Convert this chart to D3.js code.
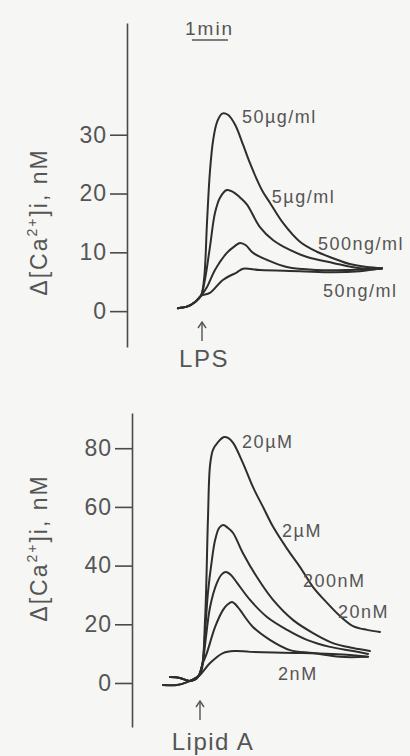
<!DOCTYPE html>
<html>
<head>
<meta charset="utf-8">
<script src="https://cdn.jsdelivr.net/npm/d3@7/dist/d3.min.js"></script>
<style>
    body { margin: 0; background: #f6f6f4; }
    svg text { font-family: "Liberation Sans", Arial, sans-serif; fill: #555; }
    .trace { fill: none; stroke: #2e2e2e; stroke-width: 2; stroke-linejoin: round; stroke-linecap: round; }
    .axis path, .axis line { stroke: #4a4a4a; stroke-width: 1.6; }
</style>
</head>
<body>
<svg id="canvas" width="410" height="756"></svg>
<script>
'use strict';

// time in minutes after the stimulus, value = delta [Ca2+]i in nM

// ---- LPS panel ----
const lpsBaseline = [[-0.67, 0.5], [-0.4, 0.8], [-0.2, 1.5], [-0.03, 2.6]];
const lps50ug = [[0.06, 5.6], [0.14, 15.2], [0.22, 23.7], [0.31, 29.1], [0.42, 32.2], [0.56, 33.6], [0.72, 33.4],
    [0.92, 31.7], [1.14, 28.3], [1.33, 25.2], [1.53, 22.3], [1.69, 20.3], [1.89, 18.4], [2.25, 15.0], [2.72, 11.8],
    [3.19, 10.1], [3.64, 9.0], [4.11, 8.0], [4.58, 7.5], [5.0, 7.3]];
const lps5ug = [[0.08, 5.3], [0.22, 10.9], [0.36, 16.7], [0.5, 19.3], [0.69, 20.6], [0.86, 20.3], [1.06, 19.3],
    [1.25, 18.1], [1.61, 14.3], [1.97, 12.1], [2.44, 10.4], [2.92, 9.2], [3.64, 8.2], [4.39, 7.3], [5.0, 7.3]];
const lps500ng = [[0.14, 4.1], [0.36, 7.0], [0.69, 9.9], [0.92, 11.1], [1.06, 11.6], [1.22, 11.2], [1.42, 9.9],
    [1.81, 8.7], [2.36, 7.5], [3.19, 7.0], [4.11, 7.0], [5.0, 7.2]];
const lps50ng = [[0.22, 3.1], [0.58, 5.3], [0.97, 6.6], [1.14, 7.2], [1.61, 7.0], [2.72, 6.8], [3.64, 6.6],
    [4.39, 6.8], [5.0, 7.3]];
const lpsNames = ['50µg/ml', '5µg/ml', '500ng/ml', '50ng/ml'];
const lpsLabelAt = [[1.11, 32.0], [1.94, 18.4], [3.22, 10.4], [3.36, 2.4]];
const lpsTicks = [0, 10, 20, 30];

// ---- Lipid A panel ----
const lipidBaselineA = [[-1.03, -0.7], [-0.64, -0.7], [-0.36, 0.3], [-0.08, 2.0]];
const lipidBaselineB = [[-0.83, 2.0], [-0.56, 1.7], [-0.28, 0.7], [-0.06, 2.0]];
const lipid20uM = [[0.03, 3.7], [0.14, 21.5], [0.22, 55.5], [0.28, 74.3], [0.36, 79.4], [0.5, 82.1], [0.67, 83.8],
    [0.78, 83.5], [0.92, 81.8], [1.19, 75.0], [1.47, 66.8], [1.75, 60.0], [2.03, 53.2], [2.42, 45.7], [2.78, 39.5],
    [3.14, 32.7], [3.53, 27.3], [3.89, 22.8], [4.25, 19.4], [4.64, 18.1], [5.0, 17.4]];
const lipid2uM = [[0.06, 6.1], [0.14, 17.0], [0.22, 30.7], [0.33, 41.9], [0.42, 48.7], [0.53, 52.8], [0.64, 53.8],
    [0.78, 52.8], [0.92, 51.1], [1.19, 44.3], [1.58, 36.1], [2.03, 28.3], [2.58, 21.5], [3.14, 17.0], [3.69, 13.6],
    [4.25, 11.9], [4.72, 10.9]];
const lipid200nM = [[0.08, 7.2], [0.14, 12.9], [0.28, 25.9], [0.47, 34.1], [0.61, 37.1], [0.72, 37.8], [0.86, 36.8],
    [1.03, 34.1], [1.39, 28.3], [1.86, 22.5], [2.42, 18.1], [2.97, 14.7], [3.61, 12.3], [4.25, 10.9], [4.67, 9.9]];
const lipid20nM = [[0.08, 6.8], [0.19, 10.2], [0.42, 19.1], [0.64, 24.9], [0.78, 26.9], [0.89, 27.6], [1.0, 26.6],
    [1.11, 24.9], [1.47, 19.1], [1.94, 14.7], [2.5, 11.2], [3.14, 10.2], [3.89, 8.9], [4.64, 8.9]];
const lipid2nM = [[0.0, 2.7], [0.28, 6.8], [0.64, 10.2], [0.97, 10.9], [1.39, 10.6], [2.78, 10.2], [4.17, 9.5],
    [4.67, 8.9]];
const lipidNames = ['20µM', '2µM', '200nM', '20nM', '2nM'];
const lipidLabelAt = [[1.17, 80.1], [2.28, 49.7], [2.86, 32.7], [3.83, 22.2], [2.17, 1.0]];
const lipidTicks = [0, 20, 40, 60, 80];

document.addEventListener('DOMContentLoaded', function() {
    const svg = d3.select('#canvas');

    function drawPanel(p) {
        const g = svg.append('g');

        const x = d3.scaleLinear().domain([-1, 5]).range([p.x0, p.x0 + 216]);
        const y = d3.scaleLinear().domain(p.yDomain).range(p.yRange);

        // axis
        const axis = g.append('g')
            .attr('class', 'axis')
            .attr('transform', 'translate(' + p.axisX + ',0)')
            .call(d3.axisLeft(y)
                .tickValues(p.ticks)
                .tickSize(17)
                .tickSizeOuter(0)
                .tickPadding(3));
        axis.selectAll('text')
            .style('font-size', '23px')
            .style('letter-spacing', '1px')
            .style('fill', '#555');

        // y label
        const lab = g.append('text')
            .attr('transform', 'translate(47,' + p.labelY + ') rotate(-90)')
            .attr('text-anchor', 'middle')
            .style('font-size', '23px')
            .style('letter-spacing', '2px');
        lab.append('tspan').text('Δ[Ca');
        lab.append('tspan').attr('dy', -10).style('font-size', '14px').text('2+');
        lab.append('tspan').attr('dy', 10).text(']i, nM');

        // traces
        const line = d3.line()
            .x(function(d) { return x(d[0]); })
            .y(function(d) { return y(d[1]); })
            .curve(d3.curveCatmullRom.alpha(0.5));

        g.selectAll('path.trace')
            .data(p.series)
            .enter().append('path')
            .attr('class', 'trace')
            .attr('d', line);

        // trace labels
        g.selectAll('text.name')
            .data(p.names)
            .enter().append('text')
            .attr('class', 'name')
            .attr('x', function(d, i) { return x(p.labelAt[i][0]); })
            .attr('y', function(d, i) { return y(p.labelAt[i][1]); })
            .style('font-size', '18px')
            .style('letter-spacing', '1.5px')
            .text(function(d) { return d; });

        // stimulus arrow
        const ax = x(0);
        g.append('line')
            .attr('x1', ax).attr('x2', ax)
            .attr('y1', p.arrowY).attr('y2', p.arrowY + 19)
            .attr('stroke', '#555').attr('stroke-width', 1.4);
        g.append('path')
            .attr('d', 'M' + (ax - 4) + ',' + (p.arrowY + 6) + 'L' + ax + ',' + p.arrowY + 'L' + (ax + 4) + ',' + (p.arrowY + 6))
            .attr('fill', 'none').attr('stroke', '#555').attr('stroke-width', 1.4);
        g.append('text')
            .attr('x', ax + p.stimDx)
            .attr('y', p.stimY)
            .attr('text-anchor', 'middle')
            .style('font-size', '24px')
            .style('letter-spacing', '1.5px')
            .text(p.stimulus);

        return x;
    }

    const xTop = drawPanel({
        x0: 166, axisX: 127,
        yDomain: [-6.1, 49], yRange: [347, 23],
        ticks: lpsTicks, labelY: 222,
        series: [lps50ug, lps5ug, lps500ng, lps50ng].map(function(s) { return lpsBaseline.concat(s); }),
        names: lpsNames, labelAt: lpsLabelAt,
        arrowY: 322, stimY: 367, stimDx: 2, stimulus: 'LPS'
    });

    drawPanel({
        x0: 164, axisX: 132,
        yDomain: [-15, 92], yRange: [727, 413],
        ticks: lipidTicks, labelY: 548,
        series: [
            lipidBaselineA.concat(lipid20uM),
            lipidBaselineB.concat(lipid2uM),
            lipidBaselineB.concat(lipid200nM),
            lipidBaselineB.concat(lipid20nM),
            lipidBaselineA.concat(lipid2nM)
        ],
        names: lipidNames, labelAt: lipidLabelAt,
        arrowY: 701, stimY: 750, stimDx: 13, stimulus: 'Lipid A'
    });

    // 1 min scale bar
    svg.append('text')
        .attr('x', 185).attr('y', 35)
        .style('font-size', '19px')
        .style('letter-spacing', '2px')
        .text('1min');
    svg.append('line')
        .attr('x1', xTop(-0.28)).attr('x2', xTop(0.72))
        .attr('y1', 40).attr('y2', 40)
        .attr('stroke', '#555').attr('stroke-width', 1.5);
}, false);
</script>
</body>
</html>
